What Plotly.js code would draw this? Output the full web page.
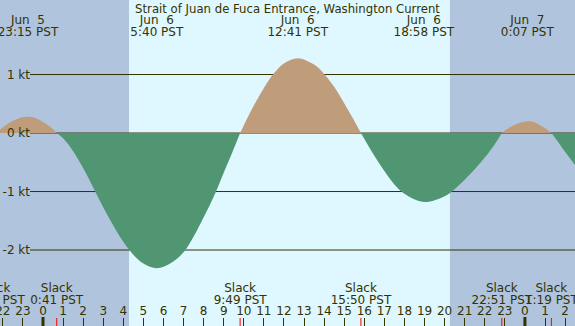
<!DOCTYPE html>
<html>
<head>
<meta charset="utf-8">
<script src="https://cdn.plot.ly/plotly-3.0.1.min.js"></script>
<style>
  html, body { margin: 0; padding: 0; background: #b0c4de; }
  #chart { width: 575px; height: 326px; }
</style>
</head>
<body>
<div id="chart"></div>
<script>
// Current speed in knots: positive = flood, negative = ebb, 0 = slack water
const times = [
  // flood, late Jun 5
  '2024-06-05 21:35', '2024-06-05 21:52', '2024-06-05 22:00', '2024-06-05 22:30', '2024-06-05 23:00', '2024-06-05 23:15',
  '2024-06-05 23:30', '2024-06-06 00:00', '2024-06-06 00:20', '2024-06-06 00:41',
  // morning ebb
  '2024-06-06 01:00', '2024-06-06 01:30', '2024-06-06 02:00', '2024-06-06 02:30', '2024-06-06 03:00', '2024-06-06 03:30',
  '2024-06-06 04:00', '2024-06-06 04:30', '2024-06-06 05:00', '2024-06-06 05:40',
  '2024-06-06 06:20', '2024-06-06 07:00', '2024-06-06 07:30', '2024-06-06 08:00', '2024-06-06 08:30', '2024-06-06 09:00',
  '2024-06-06 09:30', '2024-06-06 09:49',
  // midday flood
  '2024-06-06 10:00', '2024-06-06 10:30', '2024-06-06 11:00', '2024-06-06 11:30', '2024-06-06 12:00',
  '2024-06-06 12:41', '2024-06-06 13:30', '2024-06-06 14:00', '2024-06-06 14:30', '2024-06-06 15:00',
  '2024-06-06 15:30', '2024-06-06 15:50',
  // evening ebb
  '2024-06-06 16:00', '2024-06-06 16:30', '2024-06-06 17:00', '2024-06-06 17:30', '2024-06-06 18:00',
  '2024-06-06 18:58', '2024-06-06 20:00', '2024-06-06 20:30', '2024-06-06 21:00', '2024-06-06 21:30',
  '2024-06-06 22:00', '2024-06-06 22:30', '2024-06-06 22:51',
  // night flood
  '2024-06-06 23:00', '2024-06-06 23:30', '2024-06-07 00:07', '2024-06-07 00:30', '2024-06-07 01:00', '2024-06-07 01:19',
  // next ebb
  '2024-06-07 01:30', '2024-06-07 02:00', '2024-06-07 02:30', '2024-06-07 02:40'
];
const speeds = [
  0, 0.06, 0.10, 0.21, 0.27, 0.28,
  0.27, 0.19, 0.11, 0,
  -0.09, -0.31, -0.60, -0.93, -1.27, -1.58,
  -1.86, -2.08, -2.23, -2.31,
  -2.23, -2.04, -1.77, -1.44, -1.09, -0.68,
  -0.27, 0,
  0.13, 0.47, 0.77, 1.02, 1.19,
  1.28, 1.17, 1.01, 0.79, 0.51,
  0.21, 0,
  -0.10, -0.39, -0.65, -0.88, -1.04,
  -1.18, -1.08, -0.96, -0.80, -0.62,
  -0.42, -0.19, 0,
  0.04, 0.14, 0.20, 0.18, 0.08, 0,
  -0.08, -0.32, -0.55, -0.63
];

// Slack water and maximum current events
const slackTimes = ['2024-06-05 21:35', '2024-06-06 00:41', '2024-06-06 09:49', '2024-06-06 15:50', '2024-06-06 22:51', '2024-06-07 01:19'];
const maxTimes = ['2024-06-05 23:15', '2024-06-06 05:40', '2024-06-06 12:41', '2024-06-06 18:58', '2024-06-07 00:07'];

// Daylight and midnight markers
const sunrise = '2024-06-06 04:17';
const sunset = '2024-06-06 20:16';
const midnights = ['2024-06-06 00:00', '2024-06-07 00:00'];

const speedTicks = [-2, -1, 0, 1];
const speedTickText = ['-2 kt', '-1 kt', '0 kt', '1 kt'];
const monthNames = ['Jan', 'Feb', 'Mar', 'Apr', 'May', 'Jun', 'Jul', 'Aug', 'Sep', 'Oct', 'Nov', 'Dec'];

const W = 575, H = 326;
const FONT = 'DejaVu Sans';
const INK = '#333300';
const FLOOD = '#bf9c7a';
const EBB = '#509673';
const NIGHT = '#b0c4de';
const DAY = '#dff7ff';

function dayLabel(t) {
  return monthNames[parseInt(t.slice(5, 7), 10) - 1] + '\u00a0\u00a0' + parseInt(t.slice(8, 10), 10);
}
function timeLabel(t) {
  return parseInt(t.slice(11, 13), 10) + ':' + t.slice(14, 16) + ' PST';
}

// Split the series at slack water so flood and ebb get their own fill colour
const traces = [];
let segX = [times[0]], segY = [speeds[0]];
for (let i = 1; i < times.length; i++) {
  segX.push(times[i]);
  segY.push(speeds[i]);
  if (speeds[i] === 0 || i === times.length - 1) {
    const flood = segY.some(v => v > 0);
    traces.push({
      x: segX, y: segY, type: 'scatter', mode: 'lines',
      line: { shape: 'spline', smoothing: 1, width: 0, color: flood ? FLOOD : EBB },
      fill: 'tozeroy', fillcolor: flood ? FLOOD : EBB,
      hoverinfo: 'skip', showlegend: false
    });
    segX = [times[i]];
    segY = [speeds[i]];
  }
}

// Text rows, measured in pixel rows from the top of the chart (yaxis2)
const rows = { day: 21.4, time: 33.4, slack: 289.4, slackTime: 301.0 };
function textTrace(xs, row, texts) {
  return {
    x: xs, y: xs.map(() => row), text: texts, yaxis: 'y2',
    type: 'scatter', mode: 'text', textposition: 'middle center',
    textfont: { family: FONT, size: 12, color: INK },
    hoverinfo: 'skip', showlegend: false
  };
}
traces.push(textTrace(maxTimes, rows.day, maxTimes.map(dayLabel)));
traces.push(textTrace(maxTimes, rows.time, maxTimes.map(timeLabel)));
traces.push(textTrace(slackTimes, rows.slack, slackTimes.map(() => 'Slack')));
traces.push(textTrace(slackTimes, rows.slackTime, slackTimes.map(timeLabel)));

const shapes = [];
// daylight band
shapes.push({ type: 'rect', xref: 'x', yref: 'paper', x0: sunrise, x1: sunset, y0: 0, y1: 1,
  fillcolor: DAY, line: { width: 0 }, layer: 'below' });
// speed grid lines, starting just right of their labels
speedTicks.forEach(v => shapes.push({ type: 'line', xref: 'paper', yref: 'y', x0: 30 / W, x1: 1, y0: v, y1: v,
  line: { color: INK, width: 1 }, layer: 'below' }));
// slack markers on the time axis
slackTimes.forEach(t => shapes.push({ type: 'line', xref: 'x', yref: 'paper', x0: t, x1: t, y0: 0, y1: 8 / H,
  line: { color: '#ff0000', width: 1 }, layer: 'above' }));
// midnight markers
midnights.forEach(t => shapes.push({ type: 'line', xref: 'x', yref: 'paper', x0: t, x1: t, y0: 0, y1: 9 / H,
  line: { color: INK, width: 3 }, layer: 'above' }));

const layout = {
  width: W, height: H,
  margin: { l: 0, r: 0, t: 0, b: 0 },
  paper_bgcolor: NIGHT, plot_bgcolor: NIGHT,
  showlegend: false,
  title: {
    text: 'Strait of Juan de Fuca Entrance, Washington Current',
    font: { family: FONT, size: 11.7, color: INK },
    x: 0.5, xanchor: 'center', xref: 'paper',
    y: 1 - 9.2 / H, yanchor: 'middle', yref: 'container', pad: { t: 0, b: 0, l: 0, r: 0 }
  },
  xaxis: {
    type: 'date',
    range: ['2024-06-05 21:51:31', '2024-06-07 02:29:38'],
    dtick: 3600000, tick0: '2024-06-06 00:00', tickformat: '%-H',
    ticks: 'inside', ticklen: 8, tickwidth: 1, tickcolor: INK,
    ticklabelposition: 'inside', ticklabeloverflow: 'allow',
    tickfont: { family: FONT, size: 12, color: INK },
    showgrid: false, zeroline: false, showline: false, fixedrange: true
  },
  yaxis: {
    range: [-3.299, 2.274],
    tickvals: speedTicks, ticktext: speedTickText,
    anchor: 'free', position: 30 / W, side: 'left',
    ticks: '', showgrid: false, zeroline: false, showline: false,
    tickfont: { family: FONT, size: 12, color: INK }, fixedrange: true
  },
  yaxis2: {
    overlaying: 'y', range: [H, 0], visible: false, fixedrange: true
  },
  shapes: shapes
};

Plotly.newPlot('chart', traces, layout, { staticPlot: true, displayModeBar: false });
</script>
</body>
</html>
